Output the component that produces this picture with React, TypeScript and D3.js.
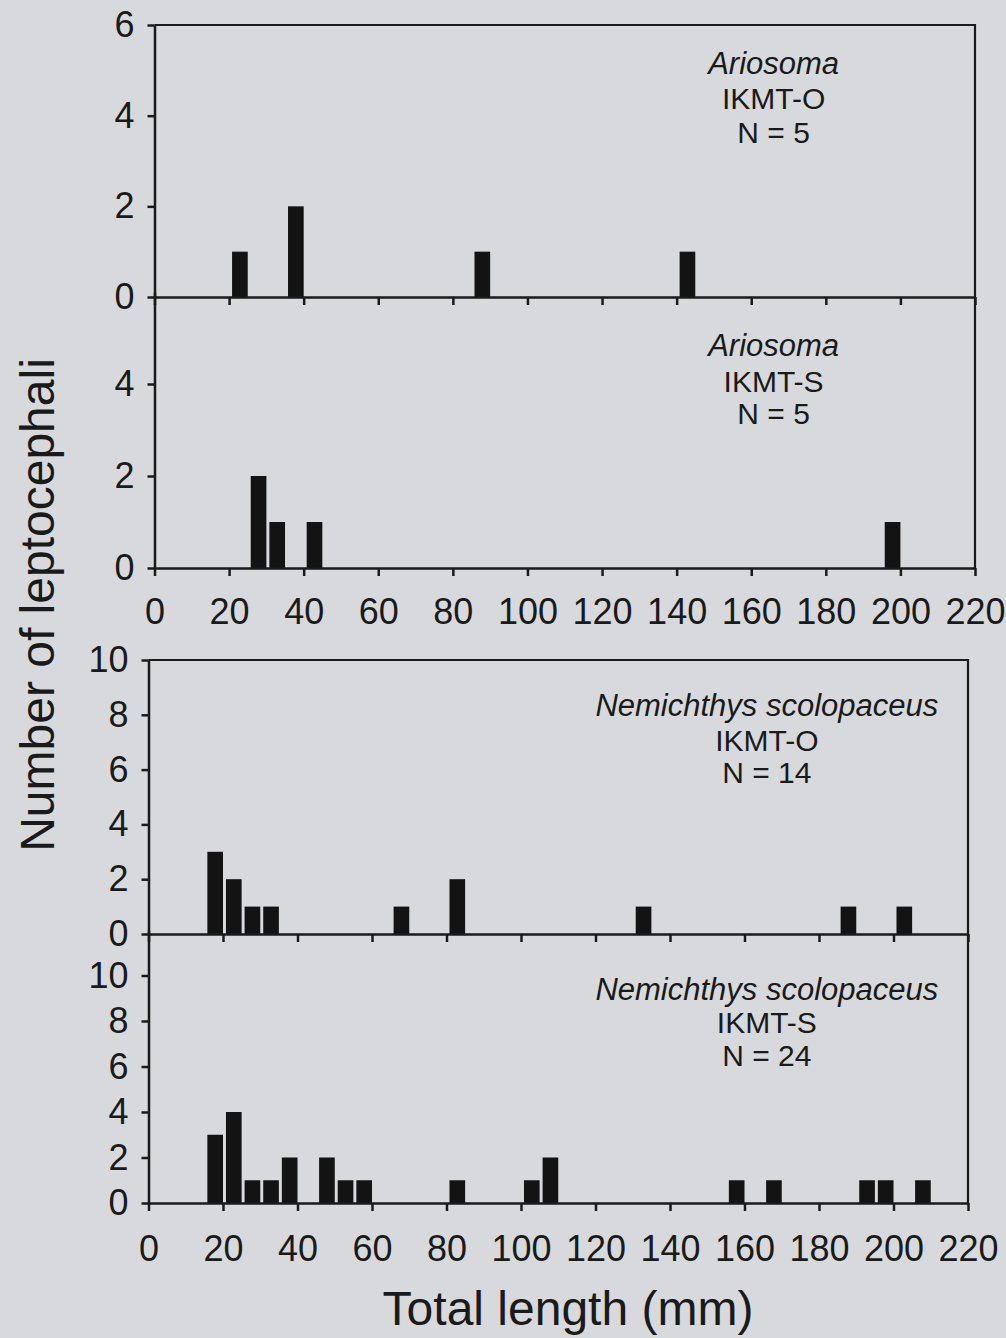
import React, { useEffect, useRef } from 'react';
import * as d3 from 'd3';

const WIDTH = 1006;
const HEIGHT = 1338;

// 5 mm length classes (lower bound, mm) and number of leptocephali in each
const ariosomaOBins = [20, 35, 85, 140];
const ariosomaOCounts = [1, 2, 1, 1];
const ariosomaSBins = [25, 30, 40, 195];
const ariosomaSCounts = [2, 1, 1, 1];
const nemichthysOBins = [15, 20, 25, 30, 65, 80, 130, 185, 200];
const nemichthysOCounts = [3, 2, 1, 1, 1, 2, 1, 1, 1];
const nemichthysSBins = [15, 20, 25, 30, 35, 45, 50, 55, 80, 100, 105, 155, 165, 190, 195, 205];
const nemichthysSCounts = [3, 4, 1, 1, 2, 2, 1, 1, 1, 1, 2, 1, 1, 1, 1, 1];

const binWidth = 5;
const xTicks = [0, 20, 40, 60, 80, 100, 120, 140, 160, 180, 200, 220];
const ariosomaOTicks = [0, 2, 4, 6];
const ariosomaSTicks = [0, 2, 4];
const nemichthysTicks = [0, 2, 4, 6, 8, 10];

const ariosomaOLabel = ['Ariosoma', 'IKMT-O', 'N = 5'];
const ariosomaSLabel = ['Ariosoma', 'IKMT-S', 'N = 5'];
const nemichthysOLabel = ['Nemichthys scolopaceus', 'IKMT-O', 'N = 14'];
const nemichthysSLabel = ['Nemichthys scolopaceus', 'IKMT-S', 'N = 24'];

const FONT = '"Liberation Sans", Arial, Helvetica, sans-serif';
const INK = '#1a1a1a';

const blocks = [
  {
    left: 154.5, right: 975, top: 25, bottom: 568, labelPad: 22,
    panels: [
      { bins: ariosomaOBins, counts: ariosomaOCounts, yMax: 6, ticks: ariosomaOTicks, top: 25, bottom: 297, label: ariosomaOLabel, labelY: [49, 84, 118] },
      { bins: ariosomaSBins, counts: ariosomaSCounts, yMax: 6, ticks: ariosomaSTicks, top: 292, bottom: 568, label: ariosomaSLabel, labelY: [64, 100, 132] },
    ],
  },
  {
    left: 148.5, right: 968, top: 660, bottom: 1203, labelPad: 24,
    panels: [
      { bins: nemichthysOBins, counts: nemichthysOCounts, yMax: 10, ticks: nemichthysTicks, top: 660, bottom: 934, label: nemichthysOLabel, labelY: [56, 91, 123] },
      { bins: nemichthysSBins, counts: nemichthysSCounts, yMax: 12, ticks: nemichthysTicks, top: 930, bottom: 1203, label: nemichthysSLabel, labelY: [70, 103, 136] },
    ],
  },
];

function LengthHistograms() {
  const ref = useRef<SVGSVGElement>(null);

  useEffect(() => {
    const svg = d3.select(ref.current);
    svg.selectAll('*').remove();

    svg.append('rect').attr('width', WIDTH).attr('height', HEIGHT).attr('fill', '#d8d9dc');

    blocks.forEach((block) => {
      const x = d3.scaleLinear().domain([0, 220]).range([block.left, block.right]);

      // top and right frame of each pair of panels
      svg.append('path')
        .attr('d', `M${block.left},${block.top}H${block.right}V${block.bottom}`)
        .attr('fill', 'none')
        .attr('stroke', INK)
        .attr('stroke-width', 2.2);

      block.panels.forEach((p, i) => {
        const y = d3.scaleLinear().domain([0, p.yMax]).range([p.bottom, p.top]);
        const data = p.bins.map((b, j) => ({ bin: b, count: p.counts[j] }));

        svg.append('g')
          .selectAll('rect')
          .data(data)
          .join('rect')
            .attr('x', (d) => x(d.bin + 0.8))
            .attr('width', (d) => x(d.bin + binWidth) - x(d.bin + 0.8))
            .attr('y', (d) => y(d.count))
            .attr('height', (d) => y(0) - y(d.count))
            .attr('fill', '#131313');

        const yAxis = d3.axisLeft(y)
          .tickValues(p.ticks)
          .tickSize(7)
          .tickPadding(13)
          .tickSizeOuter(0)
          .tickFormat(d3.format('d'));
        const gy = svg.append('g')
          .attr('transform', `translate(${block.left},0)`)
          .call(yAxis);

        const last = i === block.panels.length - 1;
        const xAxis = d3.axisBottom(x)
          .tickValues(xTicks)
          .tickSize(8)
          .tickPadding(block.labelPad)
          .tickSizeOuter(0)
          .tickFormat(last ? d3.format('d') : () => '');
        const gx = svg.append('g')
          .attr('transform', `translate(0,${p.bottom})`)
          .call(xAxis);

        [gy, gx].forEach((g) => {
          g.attr('font-family', FONT).attr('font-size', 36);
          g.selectAll('path, line').attr('stroke', INK).attr('stroke-width', 2.5);
          g.selectAll('text').attr('fill', INK);
        });

        const label = svg.append('text')
          .attr('text-anchor', 'middle')
          .attr('font-family', FONT)
          .attr('font-size', 30)
          .attr('fill', INK);
        p.label.forEach((line, k) => {
          label.append('tspan')
            .attr('x', x(166))
            .attr('y', p.top + p.labelY[k])
            .attr('font-style', k === 0 ? 'italic' : 'normal')
            .attr('font-size', k === 0 ? 31 : 30)
            .text(line);
        });
      });
    });

    svg.append('text')
      .attr('transform', 'translate(54,605) rotate(-90)')
      .attr('text-anchor', 'middle')
      .attr('font-family', FONT)
      .attr('font-size', 48)
      .attr('fill', INK)
      .text('Number of leptocephali');

    svg.append('text')
      .attr('x', 568)
      .attr('y', 1325)
      .attr('text-anchor', 'middle')
      .attr('font-family', FONT)
      .attr('font-size', 48)
      .attr('fill', INK)
      .text('Total length (mm)');
  }, []);

  return (
    <svg
      ref={ref}
      width={WIDTH}
      height={HEIGHT}
      style={{ position: 'absolute', left: 0, top: 0, display: 'block' }}
    />
  );
}

export default function App() {
  return <LengthHistograms />;
}
